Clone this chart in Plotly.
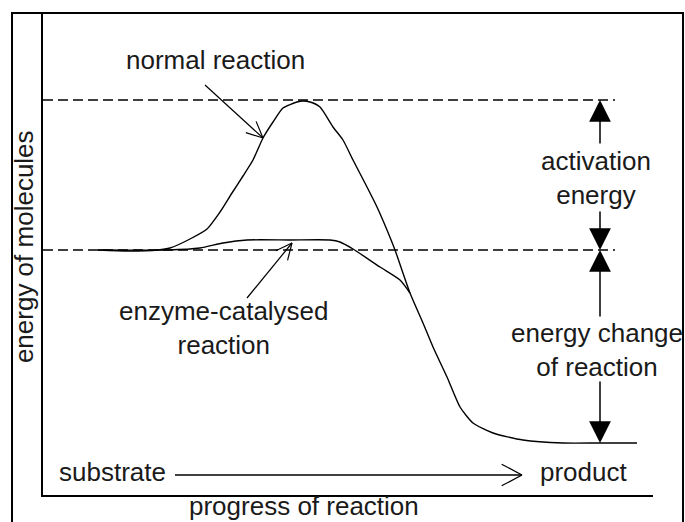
import math
import plotly.graph_objects as go

# ---- data (progress of reaction in arbitrary units, energy in arbitrary units) ----
normal_x = [11, 17, 23, 25.4, 29.4, 32.8, 35.4, 37.8, 40, 42, 44, 46, 48, 50.8, 52, 53.4, 55.4,
            58, 60, 62, 64.8, 66.8, 68.8, 70.4, 73.4, 76, 78, 80.8, 83.4, 86, 90, 96, 104, 111.4, 118.8]
normal_y = [49, 48.8, 49, 49.4, 51.2, 53.2, 56.6, 60.4, 63.8, 67, 71.4, 74.6, 77.4, 78.6, 78.8, 78.6, 77.6,
            73.6, 71, 67, 61.6, 57.6, 53, 49, 40.4, 34.4, 29.6, 23.6, 17.6, 14.4, 12.4, 11, 10.4, 10.4, 10.4]

enzyme_x = [11, 25, 31.4, 36, 40.8, 49.4, 57.4, 59.4, 62, 67.4, 71.4, 73.4]
enzyme_y = [49, 49, 49.4, 50.4, 51, 51, 51, 50.6, 49.2, 45.6, 43, 40.4]

level_names = ["transition state", "substrate"]
level_values = [79, 49]
product_level = 10.4
level_x = [0, 114.4]
measure_x = 111.4

# pointer arrows: (tail_x, tail_y, tip_x, tip_y)
pointer_normal = (32.4, 82, 44, 71.4)
pointer_enzyme = (40.8, 39.4, 49.8, 50.4)
progress_arrow = (26.4, 4, 95.8, 4)

FONT = "Liberation Sans, Arial, sans-serif"
FS = 26
TXT = "#1a1a1a"

fig = go.Figure()

for name, lv in zip(level_names, level_values):
    fig.add_trace(go.Scatter(x=level_x, y=[lv, lv], mode="lines", name=name,
                             line=dict(color="black", width=1.3, dash="10px,5px"),
                             hoverinfo="skip", showlegend=False))

fig.add_trace(go.Scatter(x=normal_x, y=normal_y, mode="lines", name="normal reaction",
                         line=dict(color="black", width=1.4, shape="spline", smoothing=0.6),
                         showlegend=False))
fig.add_trace(go.Scatter(x=enzyme_x, y=enzyme_y, mode="lines", name="enzyme-catalysed reaction",
                         line=dict(color="black", width=1.4, shape="spline", smoothing=0.6),
                         showlegend=False))


def open_arrow(spec, barb, half_angle_deg, width):
    tx, ty, hx, hy = spec
    ang = math.atan2(ty - hy, tx - hx)
    a = math.radians(half_angle_deg)
    xs = [tx, hx, None]
    ys = [ty, hy, None]
    for s in (1, -1):
        xs += [hx + barb * math.cos(ang + s * a), hx, None]
        ys += [hy + barb * math.sin(ang + s * a), hy, None]
    fig.add_trace(go.Scatter(x=xs, y=ys, mode="lines", hoverinfo="skip", showlegend=False,
                             line=dict(color="black", width=width)))


open_arrow(pointer_normal, 3.6, 25, 1.2)
open_arrow(pointer_enzyme, 3.6, 25, 1.2)
open_arrow(progress_arrow, 4.6, 28, 1.3)

ann = []


def label(text, x, y, xref="x", yref="y", angle=0):
    ann.append(dict(text=text, x=x, y=y, xref=xref, yref=yref, showarrow=False,
                    textangle=angle, xanchor="center", yanchor="middle",
                    font=dict(family=FONT, size=FS, color=TXT)))


def arrow(x, y, ax, ay):
    ann.append(dict(text="", x=x, y=y, ax=ax, ay=ay, xref="x", yref="y", axref="x", ayref="y",
                    showarrow=True, arrowhead=2, arrowsize=2.9, arrowwidth=1.5,
                    arrowcolor="black"))


label("normal reaction", 34.4, 87)
label("enzyme-catalysed<br>reaction", 36.2, 33.4)
label("activation<br>energy", 110.6, 63.4)
label("energy change<br>of reaction", 110.8, 29.1)
label("substrate", 13.8, 4.6)
label("product", 108, 4.6)
label("progress of reaction", 0.428, -0.0235, xref="paper", yref="paper")
label("energy of molecules", -0.031, 0.5145, xref="paper", yref="paper", angle=-90)

# measurement arrows
arrow(measure_x, level_values[0], measure_x, 70)
arrow(measure_x, level_values[1], measure_x, 57)
arrow(measure_x, level_values[1], measure_x, 35.4)
arrow(measure_x, product_level, measure_x, 23)

fig.update_layout(
    width=685, height=522,
    margin=dict(l=43, r=32, t=13, b=27),
    paper_bgcolor="white", plot_bgcolor="white",
    annotations=ann,
    shapes=[dict(type="rect", xref="paper", yref="paper",
                 x0=-0.0508, x1=1.0492, y0=-0.09, y1=1.0,
                 line=dict(color="black", width=2), layer="above")],
    xaxis=dict(range=[0, 122], showline=True, linecolor="black", linewidth=2,
               showgrid=False, zeroline=False, showticklabels=False, ticks=""),
    yaxis=dict(range=[0, 96.4], showline=True, linecolor="black", linewidth=2,
               showgrid=False, zeroline=False, showticklabels=False, ticks=""),
)

fig.write_html("out.html", config={"displayModeBar": False},
               post_script="document.body.style.margin='0';document.body.style.overflow='hidden';")
